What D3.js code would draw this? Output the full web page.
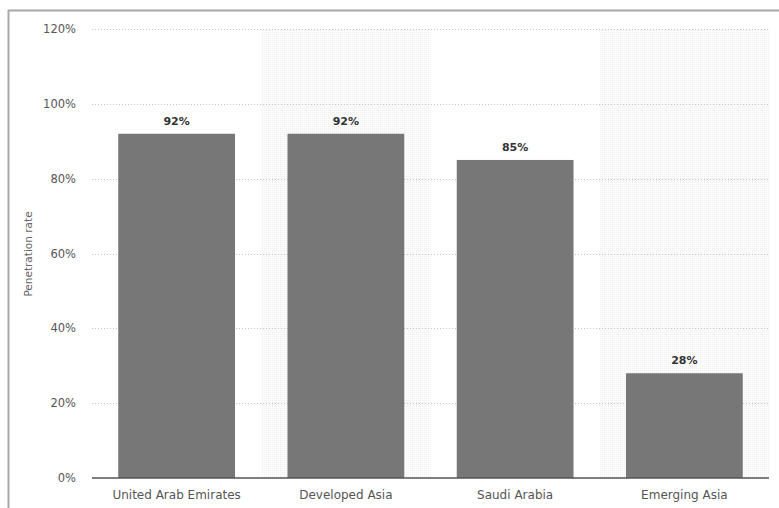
<!DOCTYPE html>
<html>
<head>
<meta charset="utf-8">
<script src="https://cdn.jsdelivr.net/npm/d3@7"></script>
<style>
  body { margin: 0; background: #fff; }
  text { font-family: "DejaVu Sans", Verdana, sans-serif; }
</style>
</head>
<body>
<svg id="chart" width="779" height="508"></svg>
<script>
// chart data
const regions = ["United Arab Emirates", "Developed Asia", "Saudi Arabia", "Emerging Asia"];
const penetration = [92, 92, 85, 28];
const yTicks = [0, 20, 40, 60, 80, 100, 120];

const svg = d3.select("#chart");

// plot box
const plotLeft = 92, plotRight = 769, plotTop = 29, plotBottom = 478;

// outer frame (top + left edge)
svg.append("line")
  .attr("x1", 8).attr("x2", 779).attr("y1", 10.5).attr("y2", 10.5)
  .attr("stroke", "#a8a8a8").attr("stroke-width", 2);
svg.append("line")
  .attr("x1", 8.5).attr("x2", 8.5).attr("y1", 10).attr("y2", 508)
  .attr("stroke", "#a8a8a8").attr("stroke-width", 2);

const x = d3.scaleBand()
  .domain(regions)
  .range([plotLeft, plotRight])
  .paddingInner(0.31)
  .paddingOuter(0.155);

const y = d3.scaleLinear()
  .domain([0, 120])
  .range([plotBottom, plotTop]);

// dotted pattern for the alternating bands
const defs = svg.append("defs");
const pat = defs.append("pattern")
  .attr("id", "band")
  .attr("width", 2).attr("height", 2)
  .attr("patternUnits", "userSpaceOnUse");
pat.append("rect").attr("width", 2).attr("height", 2).attr("fill", "#fcfcfc");
pat.append("rect").attr("width", 1).attr("height", 1).attr("fill", "#efefef");

const step = x.step();
regions.forEach((r, i) => {
  if (i % 2 === 1) {
    svg.append("rect")
      .attr("x", x(r) - x.paddingInner() * step / 2)
      .attr("y", plotTop)
      .attr("width", step)
      .attr("height", plotBottom - plotTop)
      .attr("fill", "url(#band)");
  }
});

// gridlines
svg.append("g")
  .selectAll("line")
  .data(yTicks.filter(d => d > 0))
  .join("line")
  .attr("x1", plotLeft).attr("x2", plotRight)
  .attr("y1", d => Math.round(y(d)) + 0.5)
  .attr("y2", d => Math.round(y(d)) + 0.5)
  .attr("stroke", "#c4c4c4")
  .attr("stroke-dasharray", "1,2");

// y tick labels
svg.append("g")
  .selectAll("text")
  .data(yTicks)
  .join("text")
  .attr("x", 76)
  .attr("y", d => y(d) + 4)
  .attr("text-anchor", "end")
  .attr("font-size", 11.5)
  .attr("fill", "#555")
  .text(d => d + "%");

// y axis title
svg.append("text")
  .attr("transform", "translate(32,254) rotate(-90)")
  .attr("text-anchor", "middle")
  .attr("font-size", 10.5)
  .attr("fill", "#666")
  .text("Penetration rate");

// bars
svg.append("g")
  .selectAll("rect")
  .data(penetration)
  .join("rect")
  .attr("x", (d, i) => x(regions[i]))
  .attr("y", d => y(d))
  .attr("width", x.bandwidth())
  .attr("height", d => y(0) - y(d))
  .attr("fill", "#777777");

// value labels
svg.append("g")
  .selectAll("text")
  .data(penetration)
  .join("text")
  .attr("x", (d, i) => x(regions[i]) + x.bandwidth() / 2)
  .attr("y", d => y(d) - 9)
  .attr("text-anchor", "middle")
  .attr("font-size", 11)
  .attr("font-weight", "bold")
  .attr("fill", "#333")
  .text(d => d + "%");

// baseline
svg.append("line")
  .attr("x1", plotLeft).attr("x2", plotRight)
  .attr("y1", plotBottom).attr("y2", plotBottom)
  .attr("stroke", "#555").attr("stroke-width", 1.5);

// x labels
svg.append("g")
  .selectAll("text")
  .data(regions)
  .join("text")
  .attr("x", d => x(d) + x.bandwidth() / 2)
  .attr("y", 499)
  .attr("text-anchor", "middle")
  .attr("font-size", 12)
  .attr("fill", "#555")
  .text(d => d);
</script>
</body>
</html>
